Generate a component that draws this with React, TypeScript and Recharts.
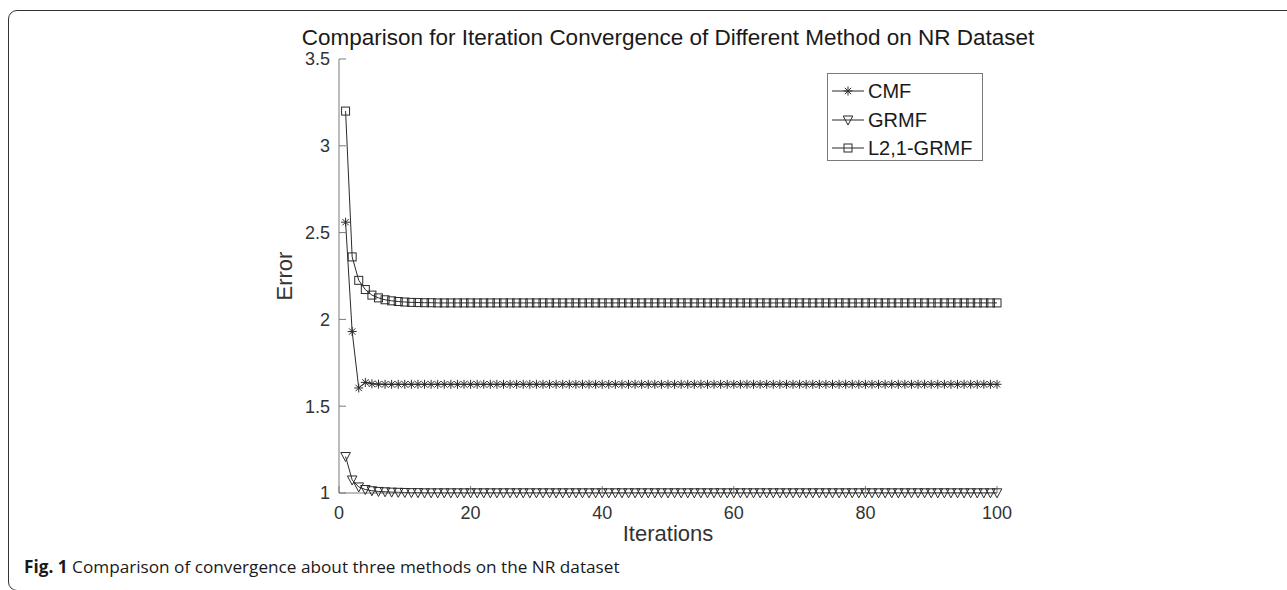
import React from 'react';
import { LineChart, Line, XAxis, YAxis, Legend } from 'recharts';

// Iteration index (x axis)
const iterations: number[] = Array.from({ length: 100 }, (_, i) => i + 1);

// Error per iteration for each method
const cmfError: number[] = [
  2.56, 1.93, 1.605, 1.637, 1.629, 1.627, 1.626, 1.626, 1.626, 1.626,
  1.626, 1.626, 1.626, 1.626, 1.626, 1.626, 1.626, 1.626, 1.626, 1.626,
  1.626, 1.626, 1.626, 1.626, 1.626, 1.626, 1.626, 1.626, 1.626, 1.626,
  1.626, 1.626, 1.626, 1.626, 1.626, 1.626, 1.626, 1.626, 1.626, 1.626,
  1.626, 1.626, 1.626, 1.626, 1.626, 1.626, 1.626, 1.626, 1.626, 1.626,
  1.626, 1.626, 1.626, 1.626, 1.626, 1.626, 1.626, 1.626, 1.626, 1.626,
  1.626, 1.626, 1.626, 1.626, 1.626, 1.626, 1.626, 1.626, 1.626, 1.626,
  1.626, 1.626, 1.626, 1.626, 1.626, 1.626, 1.626, 1.626, 1.626, 1.626,
  1.626, 1.626, 1.626, 1.626, 1.626, 1.626, 1.626, 1.626, 1.626, 1.626,
  1.626, 1.626, 1.626, 1.626, 1.626, 1.626, 1.626, 1.626, 1.626, 1.626,
];

const grmfError: number[] = [
  1.21, 1.075, 1.035, 1.02, 1.013, 1.009, 1.007, 1.005, 1.004, 1.003,
  1.002, 1.002, 1.001, 1.001, 1.001, 1.001, 1.001, 1.001, 1.001, 1.001,
  1.001, 1.001, 1.001, 1.001, 1.001, 1.001, 1.001, 1.001, 1.001, 1.001,
  1.001, 1.001, 1.001, 1.001, 1.001, 1.001, 1.001, 1.001, 1.001, 1.001,
  1.001, 1.001, 1.001, 1.001, 1.001, 1.001, 1.001, 1.001, 1.001, 1.001,
  1.001, 1.001, 1.001, 1.001, 1.001, 1.001, 1.001, 1.001, 1.001, 1.001,
  1.001, 1.001, 1.001, 1.001, 1.001, 1.001, 1.001, 1.001, 1.001, 1.001,
  1.001, 1.001, 1.001, 1.001, 1.001, 1.001, 1.001, 1.001, 1.001, 1.001,
  1.001, 1.001, 1.001, 1.001, 1.001, 1.001, 1.001, 1.001, 1.001, 1.001,
  1.001, 1.001, 1.001, 1.001, 1.001, 1.001, 1.001, 1.001, 1.001, 1.001,
];

const l21GrmfError: number[] = [
  3.2, 2.36, 2.225, 2.172, 2.14, 2.124, 2.113, 2.107, 2.103, 2.1,
  2.098, 2.097, 2.096, 2.096, 2.095, 2.095, 2.095, 2.095, 2.095, 2.095,
  2.095, 2.095, 2.095, 2.095, 2.095, 2.095, 2.095, 2.095, 2.095, 2.095,
  2.095, 2.095, 2.095, 2.095, 2.095, 2.095, 2.095, 2.095, 2.095, 2.095,
  2.095, 2.095, 2.095, 2.095, 2.095, 2.095, 2.095, 2.095, 2.095, 2.095,
  2.095, 2.095, 2.095, 2.095, 2.095, 2.095, 2.095, 2.095, 2.095, 2.095,
  2.095, 2.095, 2.095, 2.095, 2.095, 2.095, 2.095, 2.095, 2.095, 2.095,
  2.095, 2.095, 2.095, 2.095, 2.095, 2.095, 2.095, 2.095, 2.095, 2.095,
  2.095, 2.095, 2.095, 2.095, 2.095, 2.095, 2.095, 2.095, 2.095, 2.095,
  2.095, 2.095, 2.095, 2.095, 2.095, 2.095, 2.095, 2.095, 2.095, 2.095,
];

const xTicks: number[] = [0, 20, 40, 60, 80, 100];
const yTicks: number[] = [1, 1.5, 2, 2.5, 3, 3.5];

const seriesNames = ['CMF', 'GRMF', 'L2,1-GRMF'];

const data = iterations.map((it, i) => ({
  iter: it,
  cmf: cmfError[i],
  grmf: grmfError[i],
  l21: l21GrmfError[i],
}));

const FONT = '"Liberation Sans", Arial, Helvetica, sans-serif';
const INK = '#2b2b2b';
const AXIS = '#7a7a7a';
const TICK_TEXT = '#333';

// Marker shapes
const StarMark = ({ cx, cy }: { cx: number; cy: number }) => (
  <g stroke={INK} strokeWidth={1}>
    <line x1={cx - 4.5} y1={cy} x2={cx + 4.5} y2={cy} />
    <line x1={cx} y1={cy - 4.5} x2={cx} y2={cy + 4.5} />
    <line x1={cx - 3.2} y1={cy - 3.2} x2={cx + 3.2} y2={cy + 3.2} />
    <line x1={cx - 3.2} y1={cy + 3.2} x2={cx + 3.2} y2={cy - 3.2} />
  </g>
);

const TriangleMark = ({ cx, cy }: { cx: number; cy: number }) => (
  <polygon
    points={`${cx - 4.8},${cy - 4} ${cx + 4.8},${cy - 4} ${cx},${cy + 5}`}
    fill="none"
    stroke={INK}
    strokeWidth={1}
  />
);

const SquareMark = ({ cx, cy }: { cx: number; cy: number }) => (
  <rect x={cx - 4} y={cy - 4} width={8} height={8} fill="none" stroke={INK} strokeWidth={1} />
);

const markers = [StarMark, TriangleMark, SquareMark];

const makeDot = (Mark: any) => (props: any) => {
  const { cx, cy, index } = props;
  if (cx == null || cy == null) return <g key={`m-${index}`} />;
  return (
    <g key={`m-${index}`}>
      <Mark cx={cx} cy={cy} />
    </g>
  );
};

const fmtY = (v: number) => String(v);

const LegendBox = () => (
  <div
    style={{
      width: 156,
      height: 88,
      boxSizing: 'border-box',
      border: `1px solid ${AXIS}`,
      background: '#fff',
      paddingTop: 3,
      fontFamily: FONT,
    }}
  >
    {seriesNames.map((name, i) => {
      const Mark = markers[i];
      return (
        <div key={name} style={{ height: 28.5, display: 'flex', alignItems: 'center' }}>
          <svg width={40} height={20} style={{ display: 'block' }}>
            <line x1={4} y1={10} x2={36} y2={10} stroke={INK} strokeWidth={1} />
            <Mark cx={20} cy={10} />
          </svg>
          <span style={{ fontSize: 20, color: '#1a1a1a', lineHeight: '20px' }}>{name}</span>
        </div>
      );
    })}
  </div>
);

const YLabel = (props: any) => {
  const { viewBox } = props;
  const x = viewBox.x + viewBox.width - 55;
  const y = viewBox.y + viewBox.height / 2;
  return (
    <text
      x={x}
      y={y}
      transform={`rotate(-90 ${x} ${y})`}
      textAnchor="middle"
      dominantBaseline="central"
      fontFamily={FONT}
      fontSize={22}
      fill={TICK_TEXT}
    >
      Error
    </text>
  );
};

const XLabel = (props: any) => {
  const { viewBox } = props;
  return (
    <text
      x={viewBox.x + viewBox.width / 2}
      y={viewBox.y + 48}
      textAnchor="middle"
      fontFamily={FONT}
      fontSize={22}
      fill={TICK_TEXT}
    >
      Iterations
    </text>
  );
};

const emptyTick = () => <g />;

export default function App() {
  return (
    <div style={{ position: 'absolute', left: 0, top: 0, width: 1287, height: 590, background: '#fff', overflow: 'hidden' }}>
      {/* figure frame */}
      <div
        style={{
          position: 'absolute',
          left: 8,
          top: 10,
          width: 1320,
          height: 581,
          border: '1.5px solid #333',
          borderRadius: 9,
          boxSizing: 'border-box',
        }}
      />
      <div
        style={{
          position: 'absolute',
          left: 668 - 500,
          width: 1000,
          top: 26,
          textAlign: 'center',
          fontFamily: FONT,
          fontSize: 22.5,
          lineHeight: '23px',
          color: '#1a1a1a',
          whiteSpace: 'nowrap',
        }}
      >
        Comparison for Iteration Convergence of Different Method on NR Dataset
      </div>
      <div style={{ position: 'absolute', left: 0, top: 0 }}>
        <LineChart
          width={1287}
          height={590}
          data={data}
          margin={{ top: 59, right: 290, bottom: 57, left: 0 }}
        >
          <XAxis
            dataKey="iter"
            type="number"
            domain={[0, 100]}
            ticks={xTicks}
            height={40}
            stroke={AXIS}
            tickSize={-7}
            tickMargin={20}
            tick={{ fontFamily: FONT, fontSize: 18, fill: TICK_TEXT }}
            label={<XLabel />}
          />
          <XAxis
            xAxisId="top"
            orientation="top"
            type="number"
            domain={[0, 100]}
            ticks={xTicks}
            height={0}
            stroke={AXIS}
            tickSize={-7}
            tick={emptyTick}
          />
          <YAxis
            type="number"
            domain={[1, 3.5]}
            ticks={yTicks}
            width={339}
            stroke={AXIS}
            tickSize={-7}
            tickMargin={16}
            tickFormatter={fmtY}
            tick={{ fontFamily: FONT, fontSize: 18, fill: TICK_TEXT }}
            label={<YLabel />}
          />
          <YAxis
            yAxisId="right"
            orientation="right"
            type="number"
            domain={[1, 3.5]}
            ticks={yTicks}
            width={0}
            stroke={AXIS}
            tickSize={-7}
            tick={emptyTick}
          />
          <Legend
            layout="vertical"
            align="center"
            verticalAlign="middle"
            content={<LegendBox />}
            wrapperStyle={{ left: 827, top: 73, width: 156, height: 88 }}
          />
          <Line
            dataKey="cmf"
            name="CMF"
            stroke={INK}
            strokeWidth={1}
            dot={makeDot(StarMark)}
            activeDot={false}
            isAnimationActive={false}
          />
          <Line
            dataKey="grmf"
            name="GRMF"
            stroke={INK}
            strokeWidth={1}
            dot={makeDot(TriangleMark)}
            activeDot={false}
            isAnimationActive={false}
          />
          <Line
            dataKey="l21"
            name="L2,1-GRMF"
            stroke={INK}
            strokeWidth={1}
            dot={makeDot(SquareMark)}
            activeDot={false}
            isAnimationActive={false}
          />
        </LineChart>
      </div>
      <div
        style={{
          position: 'absolute',
          left: 24,
          top: 558,
          fontFamily: '"Open Sans", "Noto Sans", sans-serif',
          fontSize: 17.2,
          lineHeight: '17px',
          color: '#1a1a1a',
          whiteSpace: 'nowrap',
        }}
      >
        <b>Fig. 1</b> Comparison of convergence about three methods on the NR dataset
      </div>
    </div>
  );
}
